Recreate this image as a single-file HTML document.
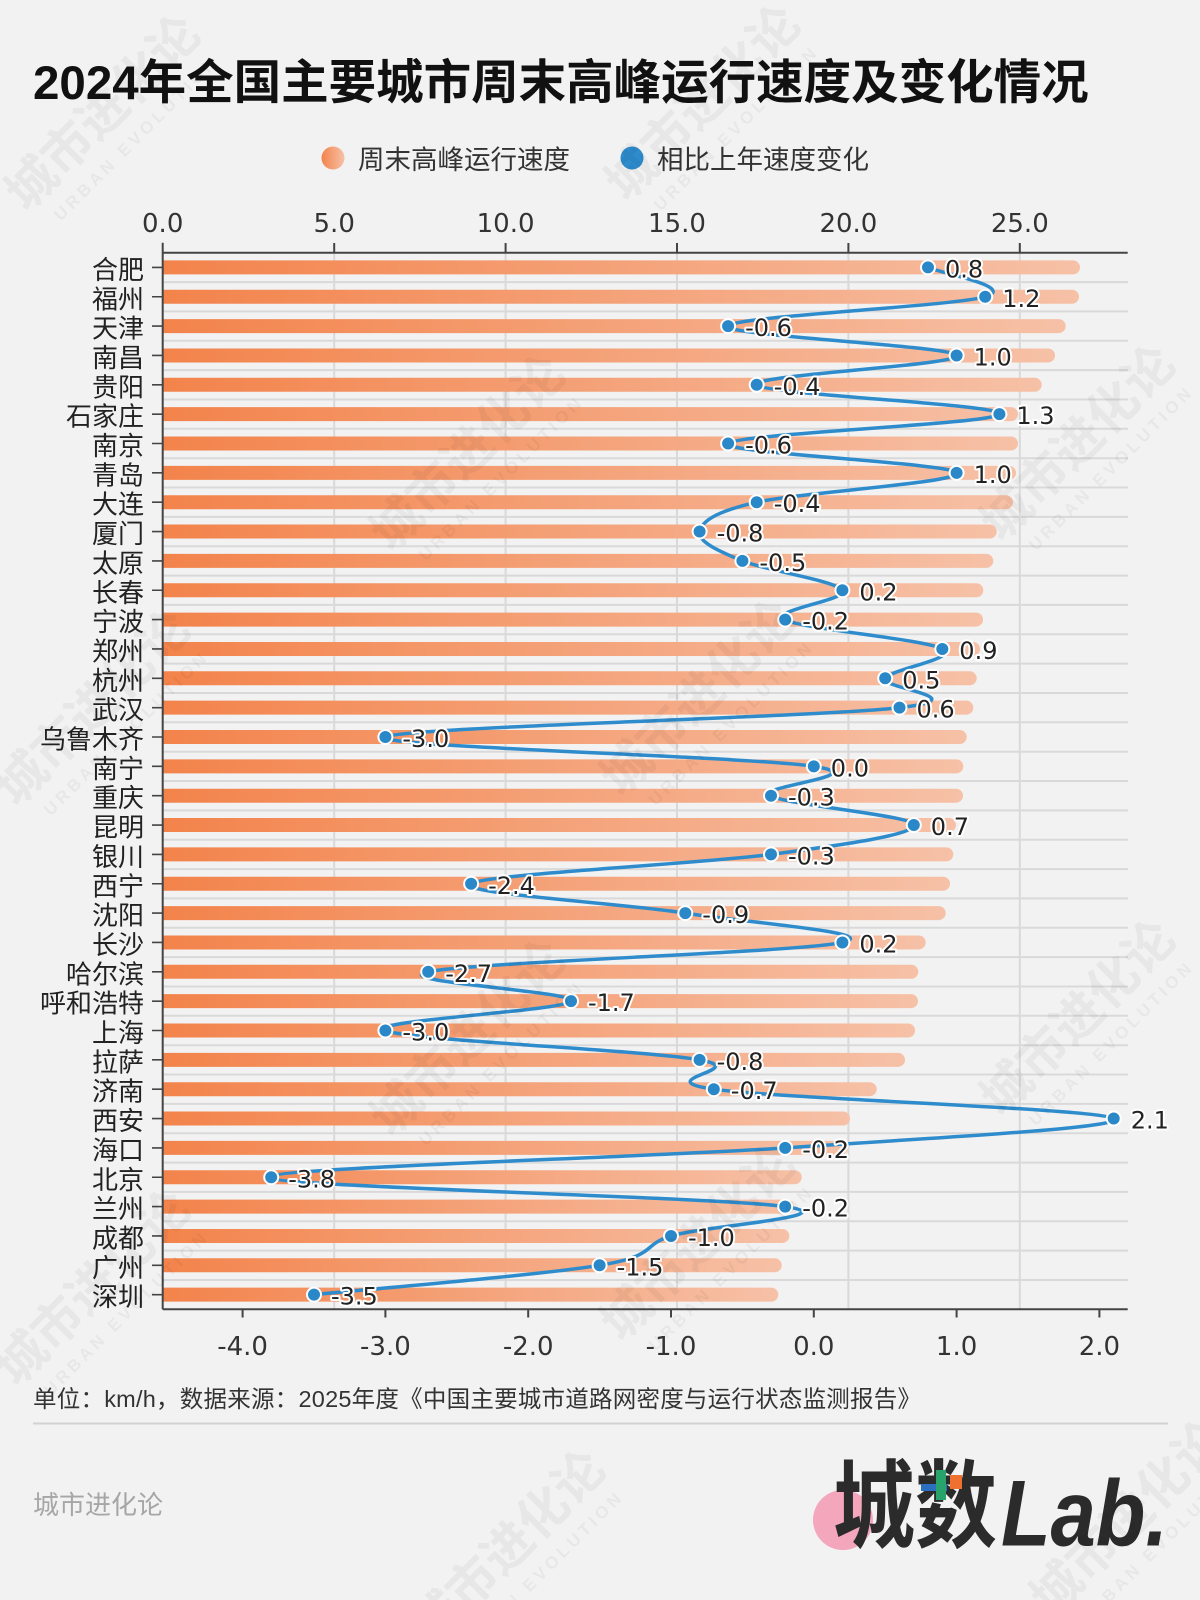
<!DOCTYPE html>
<html><head><meta charset="utf-8">
<style>
html,body{margin:0;padding:0;background:#f2f2f2;width:1200px;height:1600px;overflow:hidden;}
svg{display:block;overflow:hidden}
.cn{font-family:"Liberation Sans","Noto Sans CJK SC",sans-serif}
.num{font-family:"DejaVu Sans","Liberation Sans",sans-serif}
.c{font-family:"Liberation Sans","Noto Sans CJK SC",sans-serif;font-size:26px;fill:#222;text-anchor:end}
.v{font-family:"DejaVu Sans","Liberation Sans",sans-serif;font-size:24px;fill:#222;stroke:#fff;stroke-width:4px;paint-order:stroke;stroke-linejoin:round}
.ax{font-family:"DejaVu Sans","Liberation Sans",sans-serif;font-size:26px;fill:#333;text-anchor:middle}
.w1{font-family:"Liberation Sans","Noto Sans CJK SC",sans-serif;font-size:50px;font-weight:700;fill:#000;fill-opacity:.042;text-anchor:middle}
.w2{font-family:"Liberation Sans","Noto Sans CJK SC",sans-serif;font-size:17px;font-weight:700;letter-spacing:4px;fill:#000;fill-opacity:.042;text-anchor:middle}
</style></head>
<body>
<svg width="1200" height="1600" viewBox="0 0 1200 1600" xmlns="http://www.w3.org/2000/svg">
<defs>
<linearGradient id="g" x1="0" x2="1" y1="0" y2="0"><stop offset="0" stop-color="#f3834b"/><stop offset="1" stop-color="#f6c1a7"/></linearGradient>
</defs>
<rect width="1200" height="1600" fill="#f2f2f2"/>

<!-- Title -->
<text class="cn" x="33" y="99" font-size="47.5" font-weight="700" fill="#111">2024年全国主要城市周末高峰运行速度及变化情况</text>

<!-- Legend -->
<circle cx="333" cy="158" r="11.5" fill="url(#g)"/>
<text class="cn" x="358" y="169" font-size="26.5" fill="#333">周末高峰运行速度</text>
<circle cx="632" cy="158" r="11.5" fill="#2e8bcc"/>
<text class="cn" x="657" y="169" font-size="26.5" fill="#333">相比上年速度变化</text>

<!-- Grid -->
<g stroke="#d9d9d9" stroke-width="2" fill="none">
<path d="M334.2 252.7V1309.3M505.6 252.7V1309.3M677 252.7V1309.3M848.4 252.7V1309.3M1019.8 252.7V1309.3"/>
<path d="M163 282.1H1128M163 311.4H1128M163 340.8H1128M163 370.1H1128M163 399.5H1128M163 428.8H1128M163 458.2H1128M163 487.5H1128M163 516.9H1128M163 546.2H1128M163 575.6H1128M163 604.9H1128M163 634.3H1128M163 663.6H1128M163 693H1128M163 722.3H1128M163 751.7H1128M163 781H1128M163 810.4H1128M163 839.7H1128M163 869.1H1128M163 898.4H1128M163 927.8H1128M163 957.1H1128M163 986.5H1128M163 1015.8H1128M163 1045.2H1128M163 1074.5H1128M163 1103.9H1128M163 1133.2H1128M163 1162.6H1128M163 1191.9H1128M163 1221.3H1128M163 1250.6H1128M163 1280H1128"/>
</g>

<!-- Bars, city labels -->
<g fill="url(#g)">
<g transform="translate(0,267.4)"><path d="M163-7H1073a7 7 0 0 1 0 14H163z"/><text class="c" x="144" y="11.5">合肥</text></g>
<g transform="translate(0,296.75)"><path d="M163-7H1072a7 7 0 0 1 0 14H163z"/><text class="c" x="144" y="11.5">福州</text></g>
<g transform="translate(0,326.1)"><path d="M163-7H1058.7a7 7 0 0 1 0 14H163z"/><text class="c" x="144" y="11.5">天津</text></g>
<g transform="translate(0,355.45)"><path d="M163-7H1048a7 7 0 0 1 0 14H163z"/><text class="c" x="144" y="11.5">南昌</text></g>
<g transform="translate(0,384.8)"><path d="M163-7H1034.7a7 7 0 0 1 0 14H163z"/><text class="c" x="144" y="11.5">贵阳</text></g>
<g transform="translate(0,414.15)"><path d="M163-7H1011a7 7 0 0 1 0 14H163z"/><text class="c" x="144" y="11.5">石家庄</text></g>
<g transform="translate(0,443.5)"><path d="M163-7H1011a7 7 0 0 1 0 14H163z"/><text class="c" x="144" y="11.5">南京</text></g>
<g transform="translate(0,472.85)"><path d="M163-7H1009a7 7 0 0 1 0 14H163z"/><text class="c" x="144" y="11.5">青岛</text></g>
<g transform="translate(0,502.2)"><path d="M163-7H1006a7 7 0 0 1 0 14H163z"/><text class="c" x="144" y="11.5">大连</text></g>
<g transform="translate(0,531.55)"><path d="M163-7H989.7a7 7 0 0 1 0 14H163z"/><text class="c" x="144" y="11.5">厦门</text></g>
<g transform="translate(0,560.9)"><path d="M163-7H986.3a7 7 0 0 1 0 14H163z"/><text class="c" x="144" y="11.5">太原</text></g>
<g transform="translate(0,590.25)"><path d="M163-7H976.3a7 7 0 0 1 0 14H163z"/><text class="c" x="144" y="11.5">长春</text></g>
<g transform="translate(0,619.6)"><path d="M163-7H976a7 7 0 0 1 0 14H163z"/><text class="c" x="144" y="11.5">宁波</text></g>
<g transform="translate(0,648.95)"><path d="M163-7H973a7 7 0 0 1 0 14H163z"/><text class="c" x="144" y="11.5">郑州</text></g>
<g transform="translate(0,678.3)"><path d="M163-7H969.7a7 7 0 0 1 0 14H163z"/><text class="c" x="144" y="11.5">杭州</text></g>
<g transform="translate(0,707.65)"><path d="M163-7H966.3a7 7 0 0 1 0 14H163z"/><text class="c" x="144" y="11.5">武汉</text></g>
<g transform="translate(0,737)"><path d="M163-7H959.7a7 7 0 0 1 0 14H163z"/><text class="c" x="144" y="11.5">乌鲁木齐</text></g>
<g transform="translate(0,766.35)"><path d="M163-7H956.3a7 7 0 0 1 0 14H163z"/><text class="c" x="144" y="11.5">南宁</text></g>
<g transform="translate(0,795.7)"><path d="M163-7H956a7 7 0 0 1 0 14H163z"/><text class="c" x="144" y="11.5">重庆</text></g>
<g transform="translate(0,825.05)"><path d="M163-7H949a7 7 0 0 1 0 14H163z"/><text class="c" x="144" y="11.5">昆明</text></g>
<g transform="translate(0,854.4)"><path d="M163-7H946.3a7 7 0 0 1 0 14H163z"/><text class="c" x="144" y="11.5">银川</text></g>
<g transform="translate(0,883.75)"><path d="M163-7H943a7 7 0 0 1 0 14H163z"/><text class="c" x="144" y="11.5">西宁</text></g>
<g transform="translate(0,913.1)"><path d="M163-7H938.7a7 7 0 0 1 0 14H163z"/><text class="c" x="144" y="11.5">沈阳</text></g>
<g transform="translate(0,942.45)"><path d="M163-7H918.7a7 7 0 0 1 0 14H163z"/><text class="c" x="144" y="11.5">长沙</text></g>
<g transform="translate(0,971.8)"><path d="M163-7H911.3a7 7 0 0 1 0 14H163z"/><text class="c" x="144" y="11.5">哈尔滨</text></g>
<g transform="translate(0,1001.15)"><path d="M163-7H911a7 7 0 0 1 0 14H163z"/><text class="c" x="144" y="11.5">呼和浩特</text></g>
<g transform="translate(0,1030.5)"><path d="M163-7H908a7 7 0 0 1 0 14H163z"/><text class="c" x="144" y="11.5">上海</text></g>
<g transform="translate(0,1059.85)"><path d="M163-7H898a7 7 0 0 1 0 14H163z"/><text class="c" x="144" y="11.5">拉萨</text></g>
<g transform="translate(0,1089.2)"><path d="M163-7H869.7a7 7 0 0 1 0 14H163z"/><text class="c" x="144" y="11.5">济南</text></g>
<g transform="translate(0,1118.55)"><path d="M163-7H843a7 7 0 0 1 0 14H163z"/><text class="c" x="144" y="11.5">西安</text></g>
<g transform="translate(0,1147.9)"><path d="M163-7H841a7 7 0 0 1 0 14H163z"/><text class="c" x="144" y="11.5">海口</text></g>
<g transform="translate(0,1177.25)"><path d="M163-7H794.7a7 7 0 0 1 0 14H163z"/><text class="c" x="144" y="11.5">北京</text></g>
<g transform="translate(0,1206.6)"><path d="M163-7H787a7 7 0 0 1 0 14H163z"/><text class="c" x="144" y="11.5">兰州</text></g>
<g transform="translate(0,1235.95)"><path d="M163-7H782.3a7 7 0 0 1 0 14H163z"/><text class="c" x="144" y="11.5">成都</text></g>
<g transform="translate(0,1265.3)"><path d="M163-7H774.7a7 7 0 0 1 0 14H163z"/><text class="c" x="144" y="11.5">广州</text></g>
<g transform="translate(0,1294.65)"><path d="M163-7H771.3a7 7 0 0 1 0 14H163z"/><text class="c" x="144" y="11.5">深圳</text></g>
</g>

<!-- Left ticks -->
<path stroke="#444" stroke-width="1.6" fill="none" d="M152 267.4H162M152 296.75H162M152 326.1H162M152 355.45H162M152 384.8H162M152 414.15H162M152 443.5H162M152 472.85H162M152 502.2H162M152 531.55H162M152 560.9H162M152 590.25H162M152 619.6H162M152 648.95H162M152 678.3H162M152 707.65H162M152 737H162M152 766.35H162M152 795.7H162M152 825.05H162M152 854.4H162M152 883.75H162M152 913.1H162M152 942.45H162M152 971.8H162M152 1001.15H162M152 1030.5H162M152 1059.85H162M152 1089.2H162M152 1118.55H162M152 1147.9H162M152 1177.25H162M152 1206.6H162M152 1235.95H162M152 1265.3H162M152 1294.65H162"/>

<!-- Line (Catmull-Rom) -->
<g transform="translate(813.8,267.4) scale(142.8,29.35)">
<path fill="none" stroke="#2f8ccc" stroke-width="3.5" stroke-linejoin="round" stroke-linecap="round" vector-effect="non-scaling-stroke" d="M0.8,0
C0.8667,0.1667 1.4333,0.6667 1.2,1
C0.9667,1.3333 -0.5667,1.6667 -0.6,2
C-0.6333,2.3333 0.9667,2.6667 1,3
C1.0333,3.3333 -0.45,3.6667 -0.4,4
C-0.35,4.3333 1.3333,4.6667 1.3,5
C1.2667,5.3333 -0.55,5.6667 -0.6,6
C-0.65,6.3333 0.9667,6.6667 1,7
C1.0333,7.3333 -0.1,7.6667 -0.4,8
C-0.7,8.3333 -0.7833,8.6667 -0.8,9
C-0.8167,9.3333 -0.6667,9.6667 -0.5,10
C-0.3333,10.3333 0.15,10.6667 0.2,11
C0.25,11.3333 -0.3167,11.6667 -0.2,12
C-0.0833,12.3333 0.7833,12.6667 0.9,13
C1.0167,13.3333 0.55,13.6667 0.5,14
C0.45,14.3333 1.1833,14.6667 0.6,15
C0.0167,15.3333 -2.9,15.6667 -3,16
C-3.1,16.3333 -0.45,16.6667 0,17
C0.45,17.3333 -0.4167,17.6667 -0.3,18
C-0.1833,18.3333 0.7,18.6667 0.7,19
C0.7,19.3333 0.2167,19.6667 -0.3,20
C-0.8167,20.3333 -2.3,20.6667 -2.4,21
C-2.5,21.3333 -1.3333,21.6667 -0.9,22
C-0.4667,22.3333 0.5,22.6667 0.2,23
C-0.1,23.3333 -2.3833,23.6667 -2.7,24
C-3.0167,24.3333 -1.65,24.6667 -1.7,25
C-1.75,25.3333 -3.15,25.6667 -3,26
C-2.85,26.3333 -1.1833,26.6667 -0.8,27
C-0.4167,27.3333 -1.1833,27.6667 -0.7,28
C-0.2167,28.3333 2.0167,28.6667 2.1,29
C2.1833,29.3333 0.7833,29.6667 -0.2,30
C-1.1833,30.3333 -3.8,30.6667 -3.8,31
C-3.8,31.3333 -0.6667,31.6667 -0.2,32
C0.2667,32.3333 -0.7833,32.6667 -1,33
C-1.2167,33.3333 -1.0833,33.6667 -1.5,34
C-1.9167,34.3333 -3.1667,34.8333 -3.5,35"/>
</g>

<!-- Dots and value labels -->
<g>
<g transform="translate(928,267.4)"><circle r="7" fill="#2a88c8" stroke="#fff" stroke-width="2"/><text class="v" x="17" y="10">0.8</text></g>
<g transform="translate(985.2,296.75)"><circle r="7" fill="#2a88c8" stroke="#fff" stroke-width="2"/><text class="v" x="17" y="10">1.2</text></g>
<g transform="translate(728.1,326.1)"><circle r="7" fill="#2a88c8" stroke="#fff" stroke-width="2"/><text class="v" x="17" y="10">-0.6</text></g>
<g transform="translate(956.6,355.45)"><circle r="7" fill="#2a88c8" stroke="#fff" stroke-width="2"/><text class="v" x="17" y="10">1.0</text></g>
<g transform="translate(756.7,384.8)"><circle r="7" fill="#2a88c8" stroke="#fff" stroke-width="2"/><text class="v" x="17" y="10">-0.4</text></g>
<g transform="translate(999.4,414.15)"><circle r="7" fill="#2a88c8" stroke="#fff" stroke-width="2"/><text class="v" x="17" y="10">1.3</text></g>
<g transform="translate(728.1,443.5)"><circle r="7" fill="#2a88c8" stroke="#fff" stroke-width="2"/><text class="v" x="17" y="10">-0.6</text></g>
<g transform="translate(956.6,472.85)"><circle r="7" fill="#2a88c8" stroke="#fff" stroke-width="2"/><text class="v" x="17" y="10">1.0</text></g>
<g transform="translate(756.7,502.2)"><circle r="7" fill="#2a88c8" stroke="#fff" stroke-width="2"/><text class="v" x="17" y="10">-0.4</text></g>
<g transform="translate(699.6,531.55)"><circle r="7" fill="#2a88c8" stroke="#fff" stroke-width="2"/><text class="v" x="17" y="10">-0.8</text></g>
<g transform="translate(742.4,560.9)"><circle r="7" fill="#2a88c8" stroke="#fff" stroke-width="2"/><text class="v" x="17" y="10">-0.5</text></g>
<g transform="translate(842.4,590.25)"><circle r="7" fill="#2a88c8" stroke="#fff" stroke-width="2"/><text class="v" x="17" y="10">0.2</text></g>
<g transform="translate(785.2,619.6)"><circle r="7" fill="#2a88c8" stroke="#fff" stroke-width="2"/><text class="v" x="17" y="10">-0.2</text></g>
<g transform="translate(942.3,648.95)"><circle r="7" fill="#2a88c8" stroke="#fff" stroke-width="2"/><text class="v" x="17" y="10">0.9</text></g>
<g transform="translate(885.2,678.3)"><circle r="7" fill="#2a88c8" stroke="#fff" stroke-width="2"/><text class="v" x="17" y="10">0.5</text></g>
<g transform="translate(899.5,707.65)"><circle r="7" fill="#2a88c8" stroke="#fff" stroke-width="2"/><text class="v" x="17" y="10">0.6</text></g>
<g transform="translate(385.4,737)"><circle r="7" fill="#2a88c8" stroke="#fff" stroke-width="2"/><text class="v" x="17" y="10">-3.0</text></g>
<g transform="translate(813.8,766.35)"><circle r="7" fill="#2a88c8" stroke="#fff" stroke-width="2"/><text class="v" x="17" y="10">0.0</text></g>
<g transform="translate(771,795.7)"><circle r="7" fill="#2a88c8" stroke="#fff" stroke-width="2"/><text class="v" x="17" y="10">-0.3</text></g>
<g transform="translate(913.8,825.05)"><circle r="7" fill="#2a88c8" stroke="#fff" stroke-width="2"/><text class="v" x="17" y="10">0.7</text></g>
<g transform="translate(771,854.4)"><circle r="7" fill="#2a88c8" stroke="#fff" stroke-width="2"/><text class="v" x="17" y="10">-0.3</text></g>
<g transform="translate(471.1,883.75)"><circle r="7" fill="#2a88c8" stroke="#fff" stroke-width="2"/><text class="v" x="17" y="10">-2.4</text></g>
<g transform="translate(685.3,913.1)"><circle r="7" fill="#2a88c8" stroke="#fff" stroke-width="2"/><text class="v" x="17" y="10">-0.9</text></g>
<g transform="translate(842.4,942.45)"><circle r="7" fill="#2a88c8" stroke="#fff" stroke-width="2"/><text class="v" x="17" y="10">0.2</text></g>
<g transform="translate(428.2,971.8)"><circle r="7" fill="#2a88c8" stroke="#fff" stroke-width="2"/><text class="v" x="17" y="10">-2.7</text></g>
<g transform="translate(571,1001.15)"><circle r="7" fill="#2a88c8" stroke="#fff" stroke-width="2"/><text class="v" x="17" y="10">-1.7</text></g>
<g transform="translate(385.4,1030.5)"><circle r="7" fill="#2a88c8" stroke="#fff" stroke-width="2"/><text class="v" x="17" y="10">-3.0</text></g>
<g transform="translate(699.6,1059.85)"><circle r="7" fill="#2a88c8" stroke="#fff" stroke-width="2"/><text class="v" x="17" y="10">-0.8</text></g>
<g transform="translate(713.8,1089.2)"><circle r="7" fill="#2a88c8" stroke="#fff" stroke-width="2"/><text class="v" x="17" y="10">-0.7</text></g>
<g transform="translate(1113.7,1118.55)"><circle r="7" fill="#2a88c8" stroke="#fff" stroke-width="2"/><text class="v" x="17" y="10">2.1</text></g>
<g transform="translate(785.2,1147.9)"><circle r="7" fill="#2a88c8" stroke="#fff" stroke-width="2"/><text class="v" x="17" y="10">-0.2</text></g>
<g transform="translate(271.2,1177.25)"><circle r="7" fill="#2a88c8" stroke="#fff" stroke-width="2"/><text class="v" x="17" y="10">-3.8</text></g>
<g transform="translate(785.2,1206.6)"><circle r="7" fill="#2a88c8" stroke="#fff" stroke-width="2"/><text class="v" x="17" y="10">-0.2</text></g>
<g transform="translate(671,1235.95)"><circle r="7" fill="#2a88c8" stroke="#fff" stroke-width="2"/><text class="v" x="17" y="10">-1.0</text></g>
<g transform="translate(599.6,1265.3)"><circle r="7" fill="#2a88c8" stroke="#fff" stroke-width="2"/><text class="v" x="17" y="10">-1.5</text></g>
<g transform="translate(314,1294.65)"><circle r="7" fill="#2a88c8" stroke="#fff" stroke-width="2"/><text class="v" x="17" y="10">-3.5</text></g>
</g>

<!-- Spines & ticks -->
<g stroke="#444" stroke-width="2" fill="none">
<path d="M162.7 242.7V1309.3"/>
<path d="M162.7 252.7H1127.7"/>
<path d="M162.7 1309.3H1127.7"/>
<path d="M334.2 243V252.7M505.6 243V252.7M677 243V252.7M848.4 243V252.7M1019.8 243V252.7"/>
<path d="M242.6 1309.3V1317.5M385.4 1309.3V1317.5M528.2 1309.3V1317.5M671 1309.3V1317.5M813.8 1309.3V1317.5M956.6 1309.3V1317.5M1099.4 1309.3V1317.5"/>
</g>

<!-- Top axis labels -->
<text class="ax" x="162.7" y="232">0.0</text>
<text class="ax" x="334.2" y="232">5.0</text>
<text class="ax" x="505.6" y="232">10.0</text>
<text class="ax" x="677" y="232">15.0</text>
<text class="ax" x="848.4" y="232">20.0</text>
<text class="ax" x="1019.8" y="232">25.0</text>

<!-- Bottom axis labels -->
<text class="ax" x="242.6" y="1355">-4.0</text>
<text class="ax" x="385.4" y="1355">-3.0</text>
<text class="ax" x="528.2" y="1355">-2.0</text>
<text class="ax" x="671" y="1355">-1.0</text>
<text class="ax" x="813.8" y="1355">0.0</text>
<text class="ax" x="956.6" y="1355">1.0</text>
<text class="ax" x="1099.4" y="1355">2.0</text>

<!-- Footer -->
<text class="cn" x="33" y="1407" font-size="23.5" fill="#333" textLength="888" lengthAdjust="spacing">单位：km/h，数据来源：2025年度《中国主要城市道路网密度与运行状态监测报告》</text>
<path d="M33 1423.5H1168" stroke="#d2d2d2" stroke-width="2"/>
<text class="cn" x="33" y="1514" font-size="26" fill="#a6a6a6">城市进化论</text>

<!-- Logo -->
<circle cx="843" cy="1520" r="30" fill="#f4a6bd"/>
<text class="cn" x="833" y="1540" font-size="96" font-weight="700" fill="#2b2b2b" textLength="164" lengthAdjust="spacingAndGlyphs">城数</text>
<rect x="921" y="1484" width="26" height="7" fill="#2a6fc0"/>
<rect x="950" y="1475" width="12" height="14" fill="#f07030"/>
<rect x="936" y="1470" width="10" height="30" fill="#27a36b"/>
<text x="1001" y="1545.7" font-family="Liberation Sans, sans-serif" font-size="94" font-weight="700" font-style="italic" fill="#2b2b2b" textLength="167" lengthAdjust="spacingAndGlyphs">Lab.</text>

<!-- Watermarks -->
<g transform="translate(115,125) rotate(-45)"><text class="w1" x="0" y="0">城市进化论</text><text class="w2" x="6" y="30">URBAN EVOLUTION</text></g>
<g transform="translate(715,115) rotate(-45)"><text class="w1" x="0" y="0">城市进化论</text><text class="w2" x="6" y="30">URBAN EVOLUTION</text></g>
<g transform="translate(480,465) rotate(-45)"><text class="w1" x="0" y="0">城市进化论</text><text class="w2" x="6" y="30">URBAN EVOLUTION</text></g>
<g transform="translate(1090,455) rotate(-45)"><text class="w1" x="0" y="0">城市进化论</text><text class="w2" x="6" y="30">URBAN EVOLUTION</text></g>
<g transform="translate(105,720) rotate(-45)"><text class="w1" x="0" y="0">城市进化论</text><text class="w2" x="6" y="30">URBAN EVOLUTION</text></g>
<g transform="translate(710,710) rotate(-45)"><text class="w1" x="0" y="0">城市进化论</text><text class="w2" x="6" y="30">URBAN EVOLUTION</text></g>
<g transform="translate(480,1050) rotate(-45)"><text class="w1" x="0" y="0">城市进化论</text><text class="w2" x="6" y="30">URBAN EVOLUTION</text></g>
<g transform="translate(1090,1030) rotate(-45)"><text class="w1" x="0" y="0">城市进化论</text><text class="w2" x="6" y="30">URBAN EVOLUTION</text></g>
<g transform="translate(105,1300) rotate(-45)"><text class="w1" x="0" y="0">城市进化论</text><text class="w2" x="6" y="30">URBAN EVOLUTION</text></g>
<g transform="translate(710,1255) rotate(-45)"><text class="w1" x="0" y="0">城市进化论</text><text class="w2" x="6" y="30">URBAN EVOLUTION</text></g>
<g transform="translate(520,1560) rotate(-45)"><text class="w1" x="0" y="0">城市进化论</text><text class="w2" x="6" y="30">URBAN EVOLUTION</text></g>
<g transform="translate(1140,1530) rotate(-45)"><text class="w1" x="0" y="0">城市进化论</text><text class="w2" x="6" y="30">URBAN EVOLUTION</text></g>
</svg>
</body></html>
